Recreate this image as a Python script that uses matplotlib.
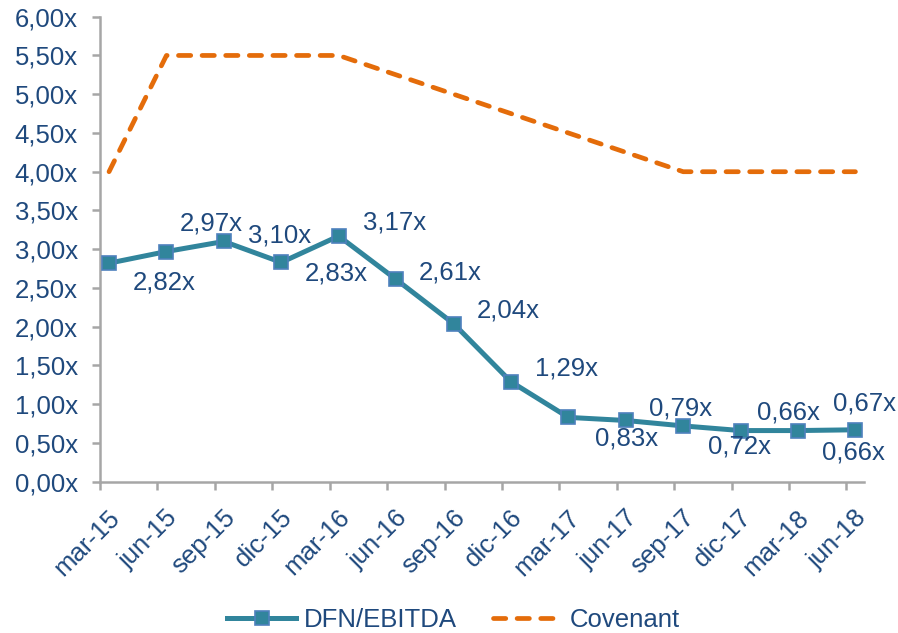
import numpy as np
import matplotlib
matplotlib.use("Agg")
import matplotlib.pyplot as plt
import matplotlib.transforms as mtransforms
from matplotlib.ticker import FuncFormatter, MultipleLocator

# Data
periods = ["mar-15", "jun-15", "sep-15", "dic-15", "mar-16", "jun-16", "sep-16",
           "dic-16", "mar-17", "jun-17", "sep-17", "dic-17", "mar-18", "jun-18"]
dfn_ebitda = [2.82, 2.97, 3.10, 2.83, 3.17, 2.61, 2.04,
              1.29, 0.83, 0.79, 0.72, 0.66, 0.66, 0.67]
covenant = [4.00, 5.50, 5.50, 5.50, 5.50, 5.25, 5.00,
            4.75, 4.50, 4.25, 4.00, 4.00, 4.00, 4.00]

# label offsets (pixels) as placed in the original
label_offsets = [(55, -19), (45, 28), (56, 6), (55, -11), (56, 14), (54, 7), (55, 13),
                 (56, 13), (58, -21), (55, 12), (56, -21), (48, 18), (55, -22), (9, 26)]

text_col = "#1F497D"
teal = "#31859C"
orange = "#E46C0A"
axis_col = "#A6A6A6"
fs = 18.5

plt.rcParams["font.family"] = ["Liberation Sans", "DejaVu Sans"]

fig = plt.figure(figsize=(8.98, 6.33), dpi=100)
ax = fig.add_axes([0.1114, 0.239, 0.851, 0.7346])

x = np.arange(len(periods))
# markers sit slightly right of the tick marks in the original
shift = ax.transData + mtransforms.ScaledTranslation(9 / 100, 0, fig.dpi_scale_trans)

ax.plot(x, covenant, color=orange, lw=3.4, linestyle=(0, (2.6, 2.4)),
        dash_capstyle="round", transform=shift, label="Covenant", zorder=2)
ax.plot(x, dfn_ebitda, color=teal, lw=3.6, marker="s", markersize=10,
        markerfacecolor=teal, markeredgecolor="#4F81BD", markeredgewidth=1.2,
        transform=shift, label="DFN/EBITDA", zorder=3)

for i, v in enumerate(dfn_ebitda):
    dx, dy = label_offsets[i]
    ax.annotate(f"{v:.2f}x".replace(".", ","), (x[i], v), xycoords=shift,
                xytext=(dx, dy), textcoords="offset pixels",
                ha="center", va="center", fontsize=fs, color=text_col)

ax.set_xlim(0, 13.31)
ax.set_ylim(0, 6)
ax.yaxis.set_major_locator(MultipleLocator(0.5))
ax.yaxis.set_major_formatter(FuncFormatter(lambda v, p: f"{v:.2f}x".replace(".", ",")))
ax.set_xticks(x)
ax.set_xticklabels(periods, rotation=45, ha="right", rotation_mode="anchor")

for s in ["top", "right"]:
    ax.spines[s].set_visible(False)
for s in ["left", "bottom"]:
    ax.spines[s].set_color(axis_col)
    ax.spines[s].set_linewidth(1.8)

ax.tick_params(axis="both", colors=axis_col, width=1.8, length=6, labelcolor=text_col,
               labelsize=fs)
ax.tick_params(axis="y", pad=10)
ax.tick_params(axis="x", pad=6)

# nudge the rotated date labels like the original
lab_shift = mtransforms.ScaledTranslation(8 / 100, -7 / 100, fig.dpi_scale_trans)
for lab in ax.get_xticklabels():
    lab.set_transform(lab.get_transform() + lab_shift)

handles, labels = ax.get_legend_handles_labels()
fig.legend(handles[::-1], labels[::-1], loc="lower center", bbox_to_anchor=(0.505, -0.035),
           ncol=2, frameon=False, fontsize=fs, labelcolor=text_col,
           handlelength=2.7, handletextpad=0.3, columnspacing=1.4)

fig.savefig("out.png", dpi=100)
